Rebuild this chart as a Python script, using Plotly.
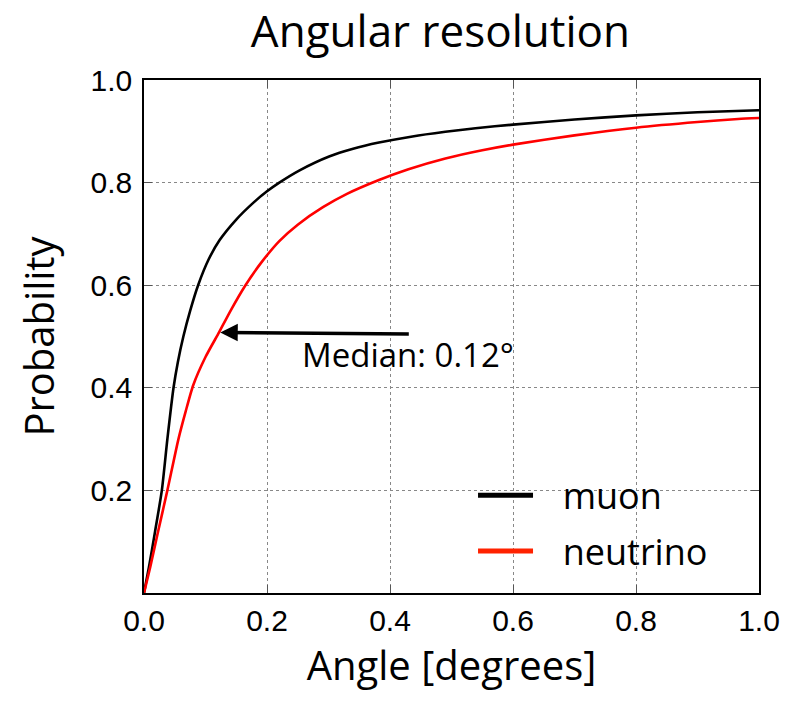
import plotly.graph_objects as go

# Data
muon_x = [0.0, 0.008, 0.018, 0.029, 0.038, 0.048, 0.055, 0.064, 0.075, 0.088, 0.105, 0.123,
          0.150, 0.178, 0.200, 0.220, 0.253, 0.301, 0.340, 0.382, 0.4365, 0.490, 0.539,
          0.600, 0.700, 0.800, 0.900, 1.000]
muon_y = [0.0, 0.05, 0.12, 0.20, 0.30, 0.40, 0.45, 0.50, 0.55, 0.600, 0.650, 0.688,
          0.728, 0.761, 0.783, 0.800, 0.824, 0.851, 0.866, 0.878, 0.890, 0.899, 0.906,
          0.913, 0.923, 0.931, 0.937, 0.941]

nu_x = [0.0, 0.010, 0.022, 0.038, 0.056, 0.068, 0.080, 0.100, 0.122, 0.142, 0.165, 0.190,
        0.220, 0.250, 0.291, 0.330, 0.382, 0.430, 0.490, 0.550, 0.600, 0.700, 0.800, 0.900,
        0.966, 1.000]
nu_y = [0.0, 0.05, 0.115, 0.20, 0.30, 0.355, 0.405, 0.46, 0.508, 0.553, 0.60, 0.643,
        0.686, 0.718, 0.752, 0.778, 0.805, 0.826, 0.847, 0.863, 0.874, 0.892, 0.907, 0.918,
        0.924, 0.926]

median_head = (0.124, 0.508)
median_tail = (0.433, 0.505)
median_label = "Median: 0.12°"

x_ticks = [0.0, 0.2, 0.4, 0.6, 0.8, 1.0]
y_ticks = [0.2, 0.4, 0.6, 0.8, 1.0]

FONT = "Open Sans"
PAD = "\u00a0\u00a0\u2009"

fig = go.Figure()
fig.add_trace(go.Scatter(x=muon_x, y=muon_y, mode="lines",
                         line=dict(color="black", width=2.6, shape="spline", smoothing=0.6),
                         showlegend=False, hoverinfo="skip"))
fig.add_trace(go.Scatter(x=nu_x, y=nu_y, mode="lines",
                         line=dict(color="#ff0000", width=2.6, shape="spline", smoothing=0.6),
                         showlegend=False, hoverinfo="skip"))
# legend entries
fig.add_trace(go.Scatter(x=[None], y=[None], mode="lines", name=PAD + "muon",
                         line=dict(color="black", width=5), legendgroup="a"))
fig.add_trace(go.Scatter(x=[None], y=[None], mode="lines", name=PAD + "neutrino",
                         line=dict(color="#ff2200", width=5), legendgroup="b"))

fig.add_annotation(x=median_head[0], y=median_head[1], ax=median_tail[0], ay=median_tail[1],
                   xref="x", yref="y", axref="x", ayref="y", text="", showarrow=True,
                   arrowhead=2, arrowsize=1, arrowwidth=3.5, arrowcolor="black")
fig.add_annotation(x=0.253, y=0.464, xref="x", yref="y", text=median_label, showarrow=False,
                   xanchor="left", yanchor="middle", font=dict(family=FONT, size=33, color="black"))

axis_common = dict(showline=True, linecolor="black", linewidth=1.5, mirror="ticks",
                   ticks="inside", ticklen=8, tickwidth=1, tickcolor="#555555",
                   showgrid=True, gridcolor="#888888", gridwidth=1, griddash="dot",
                   zeroline=False, tickfont=dict(family="Liberation Sans", size=30, color="black"))

fig.update_xaxes(range=[0, 1], tickvals=x_ticks, tickformat=".1f",
                 title=dict(text="Angle [degrees]", font=dict(family=FONT, size=40, color="black"),
                            standoff=14),
                 ticklabelstandoff=0, **axis_common)
fig.update_yaxes(range=[0, 1], tickvals=y_ticks, tickformat=".1f",
                 title=dict(text="Probability", font=dict(family=FONT, size=40, color="black"),
                            standoff=24),
                 ticklabelstandoff=4, **axis_common)

fig.update_layout(
    width=792, height=705,
    margin=dict(l=144, r=31, t=80, b=112),
    paper_bgcolor="white", plot_bgcolor="white",
    title=dict(text="Angular resolution", x=0.482, xref="paper", xanchor="center",
               y=0.955, yref="container", yanchor="middle",
               font=dict(family=FONT, size=44, color="black")),
    legend=dict(x=0.535, y=0.249, xanchor="left", yanchor="top", bgcolor="rgba(0,0,0,0)",
                font=dict(family=FONT, size=36, color="black"), tracegroupgap=6,
                itemwidth=55),
)

fig.write_html("out.html", config={"displayModeBar": False},
               post_script="document.body.style.margin='0';")
